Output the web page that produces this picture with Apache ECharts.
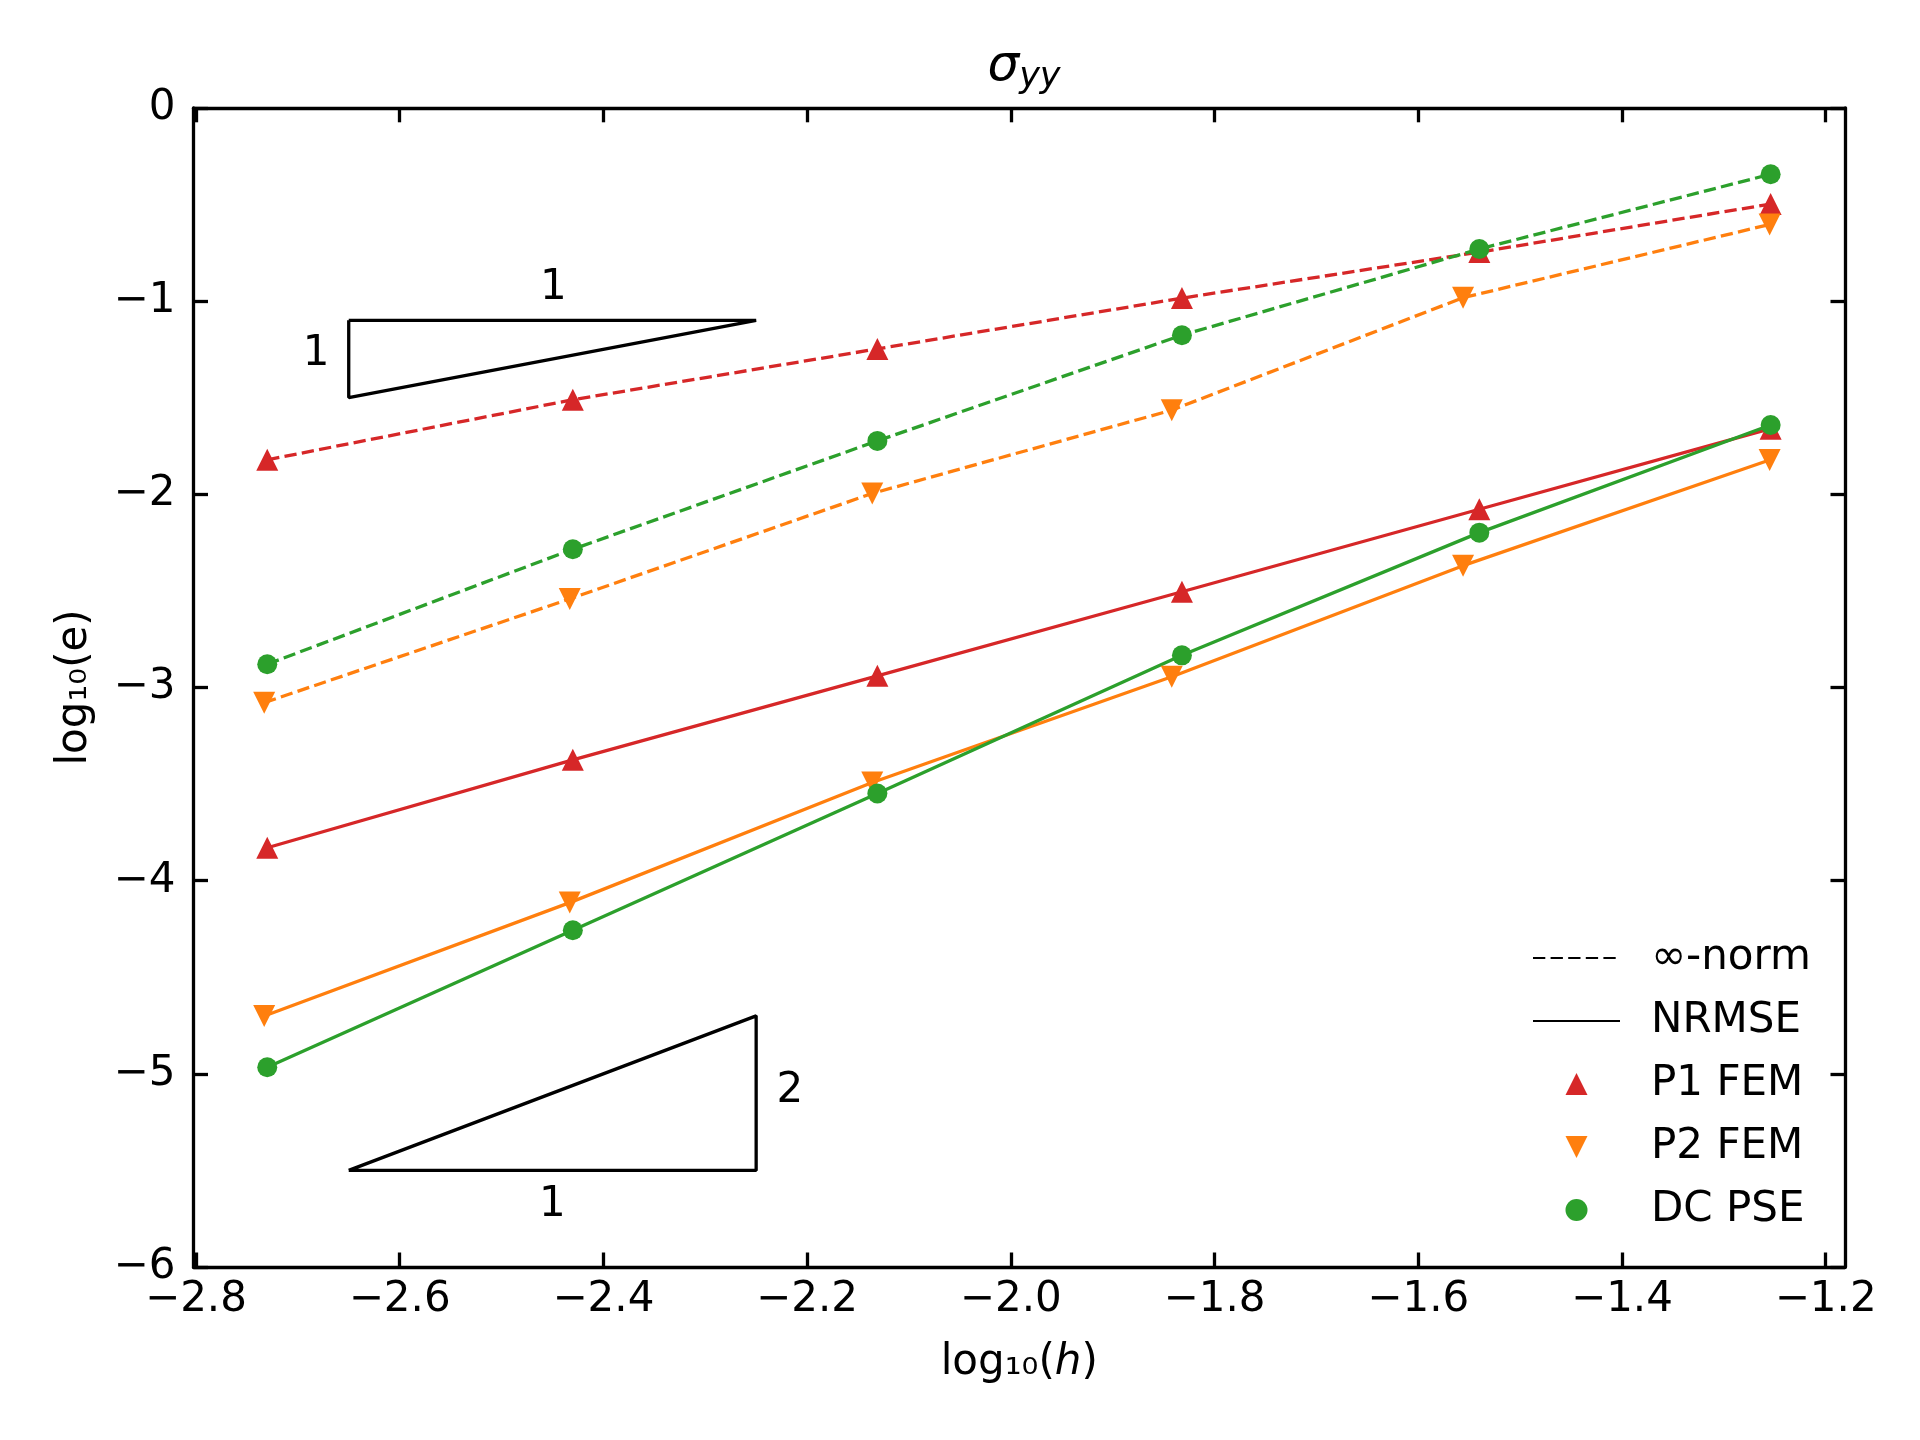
<!DOCTYPE html>
<html>
<head>
<meta charset="utf-8">
<title>sigma_yy convergence</title>
<script src="https://cdn.jsdelivr.net/npm/echarts@6/dist/echarts.min.js"></script>
<style>
	html, body {margin: 0; padding: 0; background: #fff;}
	#chart {width: 1920px; height: 1440px;}
</style>
</head>
<body>
<div id="chart"></div>
<script>
// log10(h) for each refinement level
let logH = [-2.730, -2.430, -2.131, -1.832, -1.540, -1.254];
let logHP2 = [-2.733, -2.433, -2.136, -1.842, -1.556, -1.255];

// log10(e), infinity norm
let p1Inf = [-1.822, -1.511, -1.248, -0.985, -0.747, -0.498];
let p2Inf = [-3.079, -2.542, -1.996, -1.565, -0.983, -0.604];
let dcInf = [-2.880, -2.285, -1.724, -1.177, -0.731, -0.344];

// log10(e), NRMSE
let p1Rms = [-3.830, -3.375, -2.940, -2.505, -2.078, -1.661];
let p2Rms = [-4.701, -4.114, -3.492, -2.945, -2.370, -1.823];
let dcRms = [-4.966, -4.257, -3.549, -2.834, -2.199, -1.642];

let xTicks = [-2.8, -2.6, -2.4, -2.2, -2.0, -1.8, -1.6, -1.4, -1.2];

// slope guide triangles
let slope1 = [[-2.65, -1.1], [-2.25, -1.1], [-2.65, -1.5], [-2.65, -1.1]];
let slope2 = [[-2.65, -5.5], [-2.25, -5.5], [-2.25, -4.7], [-2.65, -5.5]];
let slopeLabels = [
	{name: '1', value: [-2.449, -0.933]},
	{name: '1', value: [-2.682, -1.274]},
	{name: '2', value: [-2.217, -5.09]},
	{name: '1', value: [-2.45, -5.68]},
];

let RED = '#d62728';
let ORANGE = '#ff7f0e';
let GREEN = '#2ca02c';
let FONT = 'DejaVu Sans';
let FS = 42;
let LW = 3.3;
let DASH = [12.3, 5.3];
let X_MIN = -2.8024;
let X_MAX = -1.181;

let pairs = (xs, ys) => xs.map((x, i) => [x, ys[i]]);
let minus = (s) => String(s).replace('-', '\u2212');

let dataSeries = (name, xs, ys, color, symbol, dashed) => ({
	name: name,
	type: 'line',
	data: pairs(xs, ys),
	color: color,
	symbol: symbol === 'down' ? 'triangle' : symbol,
	symbolRotate: symbol === 'down' ? 180 : 0,
	symbolSize: symbol === 'circle' ? 20 : 22,
	itemStyle: {color: color, opacity: 1},
	lineStyle: {color: color, width: LW, type: dashed ? DASH : 'solid'},
	silent: true,
	animation: false,
	z: 3,
});

let chart = echarts.init(document.getElementById('chart'), null, {renderer: 'canvas'});

let axisCommon = {
	axisLine: {show: true, onZero: false, lineStyle: {color: '#000', width: 3.3}},
	axisTick: {show: true, inside: true, length: 14.5, lineStyle: {color: '#000', width: 3.3}},
	splitLine: {show: false},
};

chart.setOption({
	backgroundColor: '#fff',
	animation: false,
	title: {
		text: '{s|σ}{sub|yy}',
		left: 1019,
		textAlign: 'center',
		top: 34,
		textStyle: {
			fontWeight: 'normal',
			rich: {
				s: {fontFamily: FONT, fontStyle: 'italic', fontWeight: 'normal', fontSize: 50, lineHeight: 56, color: '#000'},
				sub: {fontFamily: FONT, fontStyle: 'italic', fontWeight: 'normal', fontSize: 35, lineHeight: 56, color: '#000', verticalAlign: 'bottom', padding: [16, 0, 0, 0]},
			},
		},
	},
	grid: {left: 193.5, right: 75, top: 107.8, bottom: 173, containLabel: false},
	xAxis: [
		{
			...axisCommon,
			type: 'value',
			position: 'bottom',
			min: X_MIN,
			max: X_MAX,
			axisTick: {...axisCommon.axisTick, customValues: xTicks},
			axisLabel: {
				customValues: xTicks,
				margin: 12,
				fontFamily: FONT,
				fontSize: FS,
				color: '#000',
				formatter: (v) => minus(v.toFixed(1)),
			},
			name: '{n|log₁₀(}{i|h}{n|)}',
			nameLocation: 'middle',
			nameGap: 75,
			nameTextStyle: {
				verticalAlign: 'top',
				rich: {
					n: {fontFamily: FONT, fontSize: FS, color: '#000'},
					i: {fontFamily: FONT, fontSize: FS, fontStyle: 'italic', color: '#000'},
				},
			},
		},
		{
			...axisCommon,
			type: 'value',
			position: 'top',
			min: X_MIN,
			max: X_MAX,
			axisTick: {...axisCommon.axisTick, customValues: xTicks},
			axisLabel: {show: false},
		},
	],
	yAxis: [
		{
			...axisCommon,
			type: 'value',
			position: 'left',
			min: -6,
			max: 0,
			interval: 1,
			axisLabel: {
				margin: 18,
				fontFamily: FONT,
				fontSize: FS,
				color: '#000',
				formatter: (v) => minus(v),
			},
			name: 'log₁₀(e)',
			nameLocation: 'middle',
			nameGap: 97,
			nameTextStyle: {fontFamily: FONT, fontSize: FS, color: '#000'},
		},
		{
			...axisCommon,
			type: 'value',
			position: 'right',
			min: -6,
			max: 0,
			interval: 1,
			axisLabel: {show: false},
		},
	],
	legend: {
		left: 1527,
		top: 932,
		orient: 'vertical',
		itemWidth: 87,
		itemHeight: 22,
		itemGap: 21,
		symbolKeepAspect: true,
		data: [
			{name: '∞-norm', itemStyle: {opacity: 0}},
			{name: 'NRMSE', itemStyle: {opacity: 0}},
			{name: 'P1 FEM', icon: 'path://M1,0L2,2L0,2Z', itemStyle: {opacity: 1}},
			{name: 'P2 FEM', icon: 'path://M0,0L2,0L1,2Z', itemStyle: {opacity: 1}},
			{name: 'DC PSE', icon: 'circle', itemStyle: {opacity: 1}},
		],
		textStyle: {fontFamily: FONT, fontSize: FS, color: '#000', lineHeight: 42, padding: [0, 0, 0, 26]},
		selectedMode: false,
	},
	series: [
		dataSeries('p1-inf', logH, p1Inf, RED, 'triangle', true),
		dataSeries('p1-rms', logH, p1Rms, RED, 'triangle', false),
		dataSeries('p2-inf', logHP2, p2Inf, ORANGE, 'down', true),
		dataSeries('p2-rms', logHP2, p2Rms, ORANGE, 'down', false),
		dataSeries('dc-inf', logH, dcInf, GREEN, 'circle', true),
		dataSeries('dc-rms', logH, dcRms, GREEN, 'circle', false),
		{
			name: 'slope1',
			type: 'line',
			data: slope1,
			symbol: 'none',
			lineStyle: {color: '#000', width: 3.3},
			silent: true,
		},
		{
			name: 'slope2',
			type: 'line',
			data: slope2,
			symbol: 'none',
			lineStyle: {color: '#000', width: 3.3},
			silent: true,
		},
		{
			name: 'slope-labels',
			type: 'scatter',
			data: slopeLabels,
			symbolSize: 0,
			itemStyle: {opacity: 1},
			label: {show: true, position: 'inside', formatter: '{b}', fontFamily: FONT, fontSize: FS, color: '#000', opacity: 1},
			silent: true,
		},
		// legend-only entries
		{name: '∞-norm', type: 'line', data: [], symbol: 'none', color: '#000', itemStyle: {opacity: 0}, lineStyle: {color: '#000', width: LW, type: DASH}},
		{name: 'NRMSE', type: 'line', data: [], symbol: 'none', color: '#000', itemStyle: {opacity: 0}, lineStyle: {color: '#000', width: LW}},
		{name: 'P1 FEM', type: 'scatter', data: [], symbol: 'triangle', color: RED, itemStyle: {opacity: 1}},
		{name: 'P2 FEM', type: 'scatter', data: [], symbol: 'triangle', color: ORANGE, itemStyle: {opacity: 1}},
		{name: 'DC PSE', type: 'scatter', data: [], symbol: 'circle', color: GREEN, itemStyle: {opacity: 1}},
	],
});
</script>
</body>
</html>
